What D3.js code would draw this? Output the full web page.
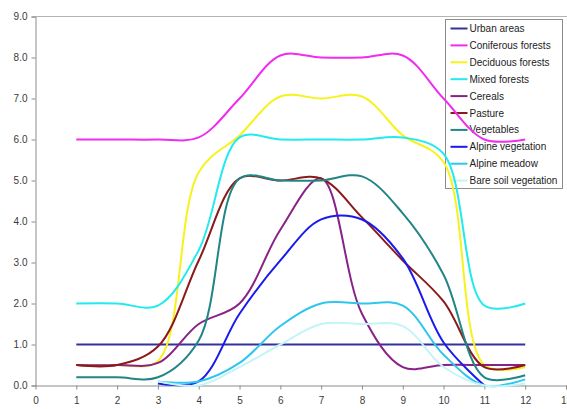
<!DOCTYPE html>
<html>
<head>
<meta charset="utf-8">
<script src="https://cdn.jsdelivr.net/npm/d3@7/dist/d3.min.js"></script>
<style>
  html, body { margin: 0; padding: 0; background: #fff; }
  svg { display: block; }
  text { font-family: Arial, "Liberation Sans", sans-serif; }
</style>
</head>
<body>
<svg id="chart" width="567" height="409"></svg>
<script>
// Months along the x axis
const months = [1, 2, 3, 4, 5, 6, 7, 8, 9, 10, 11, 12];

// Monthly values per land-cover class (null = no value for that month)
const urbanAreas         = [1.0, 1.0, 1.0, 1.0, 1.0, 1.0, 1.0, 1.0, 1.0, 1.0, 1.0, 1.0];
const coniferousForests  = [6.0, 6.0, 6.0, 6.05, 7.0, 8.05, 8.0, 8.0, 8.05, 7.0, 6.0, 6.0];
const deciduousForests   = [0.5, 0.5, 0.6, 5.2, 6.1, 7.05, 7.0, 7.05, 6.1, 5.45, 0.5, 0.45];
const mixedForests       = [2.0, 2.0, 1.95, 3.3, 6.05, 6.0, 6.0, 6.0, 6.05, 5.65, 1.95, 2.0];
const cereals            = [0.5, 0.5, 0.55, 1.5, 2.0, 3.8, 5.05, 1.75, 0.45, 0.5, 0.5, 0.5];
const pasture            = [0.5, 0.5, 0.95, 3.05, 5.05, 5.0, 5.05, 4.1, 3.05, 2.05, 0.45, 0.5];
const vegetables         = [0.2, 0.2, 0.2, 1.1, 5.05, 5.0, 5.0, 5.1, 4.2, 2.7, 0.2, 0.25];
const alpineVegetation   = [null, null, 0.05, 0.1, 1.75, 3.05, 4.05, 4.05, 3.1, 1.05, 0.0, null];
const alpineMeadow       = [null, null, 0.1, 0.1, 0.55, 1.45, 2.0, 2.0, 1.95, 0.75, 0.0, 0.15];
const bareSoilVegetation = [null, null, 0.1, 0.0, 0.45, 1.0, 1.5, 1.5, 1.45, 0.45, 0.0, 0.05];

const seriesNames = ["Urban areas", "Coniferous forests", "Deciduous forests", "Mixed forests",
  "Cereals", "Pasture", "Vegetables", "Alpine vegetation", "Alpine meadow", "Bare soil vegetation"];
const seriesValues = [urbanAreas, coniferousForests, deciduousForests, mixedForests,
  cereals, pasture, vegetables, alpineVegetation, alpineMeadow, bareSoilVegetation];
const seriesColors = ["#333399", "#f02cf0", "#f7f21c", "#22eaee", "#882288",
  "#8b1a1a", "#218585", "#1a1aee", "#2ec6ec", "#c4f4f8"];

// Axis ticks
const xTicks = [0, 1, 2, 3, 4, 5, 6, 7, 8, 9, 10, 11, 12, 13];
const yTicks = [0, 1, 2, 3, 4, 5, 6, 7, 8, 9];

const svg = d3.select("#chart");
const plotLeft = 35.5, plotRight = 566, plotTop = 16.5, plotBottom = 385.5;

const x = d3.scaleLinear().domain([0, 13]).range([plotLeft, plotRight]);
const y = d3.scaleLinear().domain([0, 9]).range([plotBottom, plotTop]);

const axisColor = "#8c8c8c";

// Top border of the plot area
svg.append("line")
  .attr("x1", plotLeft).attr("x2", 567)
  .attr("y1", plotTop).attr("y2", plotTop)
  .attr("stroke", "#b4b4b4").attr("stroke-width", 1);

// Y axis
const yAxis = svg.append("g")
  .attr("transform", `translate(${plotLeft},0)`)
  .call(d3.axisLeft(y).tickValues(yTicks).tickSize(4).tickPadding(4)
    .tickFormat(d3.format(".1f")));
yAxis.select(".domain").attr("stroke", axisColor);
yAxis.selectAll(".tick line").attr("stroke", axisColor);
yAxis.selectAll(".tick text")
  .attr("fill", "#3a3a3a").style("font-size", "10px");

// X axis
const xAxis = svg.append("g")
  .attr("transform", `translate(0,${plotBottom})`)
  .call(d3.axisBottom(x).tickValues(xTicks).tickSize(4).tickPadding(7)
    .tickFormat(d3.format("d")));
xAxis.select(".domain").attr("stroke", axisColor).attr("d", `M${plotLeft},0.5H${567}`);
xAxis.selectAll(".tick line").attr("stroke", axisColor);
xAxis.selectAll(".tick text")
  .attr("fill", "#3a3a3a").style("font-size", "10px");

// Legend
const legend = svg.append("g");
const lgX = 445.5, lgY = 19.5, lgW = 117, lgH = 169, rowH = 16.9;
legend.append("rect")
  .attr("x", lgX).attr("y", lgY).attr("width", lgW).attr("height", lgH)
  .attr("fill", "#fff").attr("stroke", "#8c8c8c").attr("stroke-width", 1);
seriesNames.forEach((name, i) => {
  const cy = lgY + 9 + i * rowH;
  legend.append("line")
    .attr("x1", lgX + 5).attr("x2", lgX + 22)
    .attr("y1", cy).attr("y2", cy)
    .attr("stroke", seriesColors[i]).attr("stroke-width", 2);
  legend.append("text")
    .attr("x", lgX + 24).attr("y", cy + 3.5)
    .attr("fill", "#222").style("font-size", "10px")
    .text(name);
});

// Smoothed series lines, drawn over the legend box
const line = d3.line()
  .defined(d => d.v !== null)
  .x(d => x(d.m))
  .y(d => y(d.v))
  .curve(d3.curveCatmullRom.alpha(0.5));

seriesValues.forEach((vals, i) => {
  const pts = months.map((m, j) => ({ m, v: vals[j] }));
  svg.append("path")
    .datum(pts)
    .attr("fill", "none")
    .attr("stroke", seriesColors[i])
    .attr("stroke-width", 2)
    .attr("stroke-linejoin", "round")
    .attr("d", line);
});
</script>
</body>
</html>
